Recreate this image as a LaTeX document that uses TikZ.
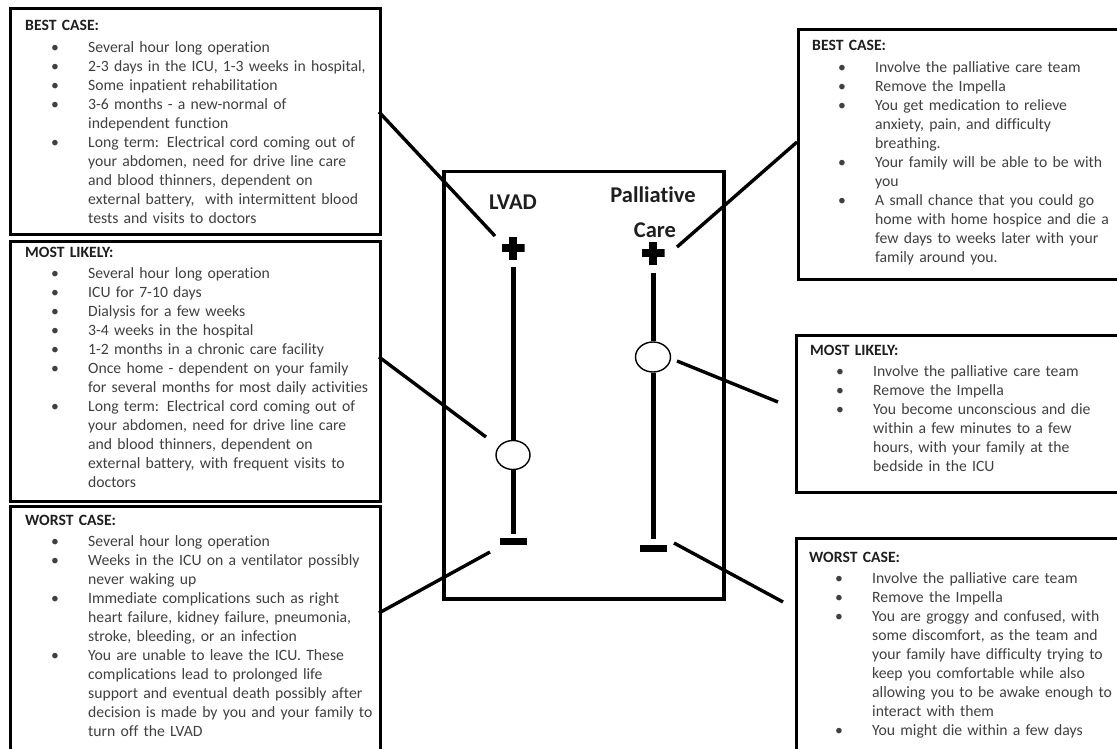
\documentclass[tikz,border=0pt]{standalone}
\usepackage{fontspec}
\setmainfont{Carlito}[Ligatures={NoCommon}]
\usetikzlibrary{shapes.geometric}
\definecolor{txtc}{HTML}{404040}
\definecolor{headc}{HTML}{1E1E1E}
\newcommand\nl{\hfil\break}
\newcommand\bitem[1]{\hangindent=63pt\hangafter=1\noindent\makebox[63pt][l]{\hspace{26pt}\textbullet}#1\par}
\newcommand\boxhead[1]{\noindent{\bfseries\color{headc}#1}\par\vspace{2.5pt}}
\tikzset{
  every picture/.style={x=1pt,y=-1pt},
  casebox/.style={draw=black, line width=2.6pt, anchor=north west, inner sep=0pt},
  txtblk/.style={text width=372pt, inner sep=0pt, anchor=base west, text=txtc,
    font=\fontsize{15.7}{19}\selectfont, execute at begin node=\raggedright},
  title/.style={font=\bfseries\fontsize{22.5}{34}\selectfont, text=headc, inner sep=0pt, anchor=base},
  bar/.style={line width=5pt},
  conn/.style={line width=3.4pt},
  mid/.style={ellipse, draw=black, line width=1.4pt, fill=white, inner sep=0pt},
  minus/.style={fill=black, minimum width=27pt, minimum height=7pt, inner sep=0pt},
  plus/.style={minimum size=23pt, inner sep=0pt, path picture={
      \fill[black] ([xshift=-4pt]path picture bounding box.north) rectangle ([xshift=4pt]path picture bounding box.south);
      \fill[black] ([yshift=4pt]path picture bounding box.west) rectangle ([yshift=-4pt]path picture bounding box.east);}}
}
\begin{document}
\begin{tikzpicture}
\useasboundingbox[fill=white] (0,0) rectangle (1117,749);

% left boxes
\node[casebox, minimum width=370pt, minimum height=226pt] (lb1) at (9,7) {};
\node[casebox, minimum width=370pt, minimum height=260pt] (lb2) at (9,240) {};
\node[casebox, minimum width=370pt, minimum height=270pt] (lb3) at (9,505) {};
% right boxes
\node[casebox, minimum width=340pt, minimum height=250pt] (rb1) at (797,28) {};
\node[casebox, minimum width=340pt, minimum height=157pt] (rb2) at (795,334) {};
\node[casebox, minimum width=340pt, minimum height=240pt] (rb3) at (795,537) {};
% centre box
\node[draw=black, line width=3.5pt, anchor=north west, minimum width=280pt, minimum height=427pt, inner sep=0pt] (cb) at (442,170) {};

% texts
\node[txtblk] (t1) at (25,31) {\boxhead{BEST CASE:}
\bitem{Several hour long operation}
\bitem{2-3 days in the ICU, 1-3 weeks in hospital,}
\bitem{Some inpatient rehabilitation}
\bitem{3-6 months - a new-normal of\nl independent function}
\bitem{Long term: Electrical cord coming out of\nl your abdomen, need for drive line care\nl and blood thinners, dependent on\nl external battery,\ \ with intermittent blood\nl tests and visits to doctors}};

\node[txtblk] (t2) at (25,257) {\boxhead{MOST LIKELY:}
\bitem{Several hour long operation}
\bitem{ICU for 7-10 days}
\bitem{Dialysis for a few weeks}
\bitem{3-4 weeks in the hospital}
\bitem{1-2 months in a chronic care facility}
\bitem{Once home - dependent on your family\nl for several months for most daily activities}
\bitem{Long term: Electrical cord coming out of\nl your abdomen, need for drive line care\nl and blood thinners, dependent on\nl external battery, with frequent visits to\nl doctors}};

\node[txtblk] (t3) at (25,525) {\boxhead{WORST CASE:}
\bitem{Several hour long operation}
\bitem{Weeks in the ICU on a ventilator possibly\nl never waking up}
\bitem{Immediate complications such as right\nl heart failure, kidney failure, pneumonia,\nl stroke, bleeding, or an infection}
\bitem{You are unable to leave the ICU. These\nl complications lead to prolonged life\nl support and eventual death possibly after\nl decision is made by you and your family to\nl turn off the LVAD}};

\node[txtblk] (t4) at (812,51) {\boxhead{BEST CASE:}
\bitem{Involve the palliative care team}
\bitem{Remove the Impella}
\bitem{You get medication to relieve\nl anxiety, pain, and difficulty\nl breathing.}
\bitem{Your family will be able to be with\nl you}
\bitem{A small chance that you could go\nl home with home hospice and die a\nl few days to weeks later with your\nl family around you.}};

\node[txtblk] (t5) at (810,355) {\boxhead{MOST LIKELY:}
\bitem{Involve the palliative care team}
\bitem{Remove the Impella}
\bitem{You become unconscious and die\nl within a few minutes to a few\nl hours, with your family at the\nl bedside in the ICU}};

\node[txtblk] (t6) at (809,562) {\boxhead{WORST CASE:}
\bitem{Involve the palliative care team}
\bitem{Remove the Impella}
\bitem{You are groggy and confused, with\nl some discomfort, as the team and\nl your family have difficulty trying to\nl keep you comfortable while also\nl allowing you to be awake enough to\nl interact with them}
\bitem{You might die within a few days}};

% titles
\node[title] (lvad) at (513,209) {LVAD};
\node[title] (pal1) at (653,203) {Palliative};
\node[title] (pal2) at (655,237) {Care};

% LVAD scale
\node[plus] (lp) at (513,248) {};
\node[mid, minimum width=34pt, minimum height=29pt] (lc) at (513,455) {};
\node[minus] (lm) at (513,541) {};
\draw[bar, shorten <=7pt] (lp.south) -- (lc.north);
\draw[bar, shorten >=3pt] (lc.south) -- (lm.north);

% Palliative scale
\node[plus] (pp) at (653,253) {};
\node[mid, minimum width=35pt, minimum height=30pt] (pc) at (653,357) {};
\node[minus] (pm) at (653,548) {};
\draw[bar, shorten <=8pt] (pp.south) -- (pc.north);
\draw[bar, shorten >=5pt] (pc.south) -- (pm.north);

% connectors
\coordinate (a1) at (379,112); \coordinate (b1) at (495,236);
\coordinate (a2) at (379,357); \coordinate (b2) at (486,437);
\coordinate (a3) at (379,613); \coordinate (b3) at (490,552);
\coordinate (a4) at (797,142); \coordinate (b4) at (677,247);
\coordinate (a5) at (778,402); \coordinate (b5) at (677,361);
\coordinate (a6) at (783,602); \coordinate (b6) at (674,543);
\draw[conn] (a1) -- (b1);
\draw[conn] (a2) -- (b2);
\draw[conn] (a3) -- (b3);
\draw[conn] (a4) -- (b4);
\draw[conn] (a5) -- (b5);
\draw[conn] (a6) -- (b6);
\end{tikzpicture}
\end{document}
